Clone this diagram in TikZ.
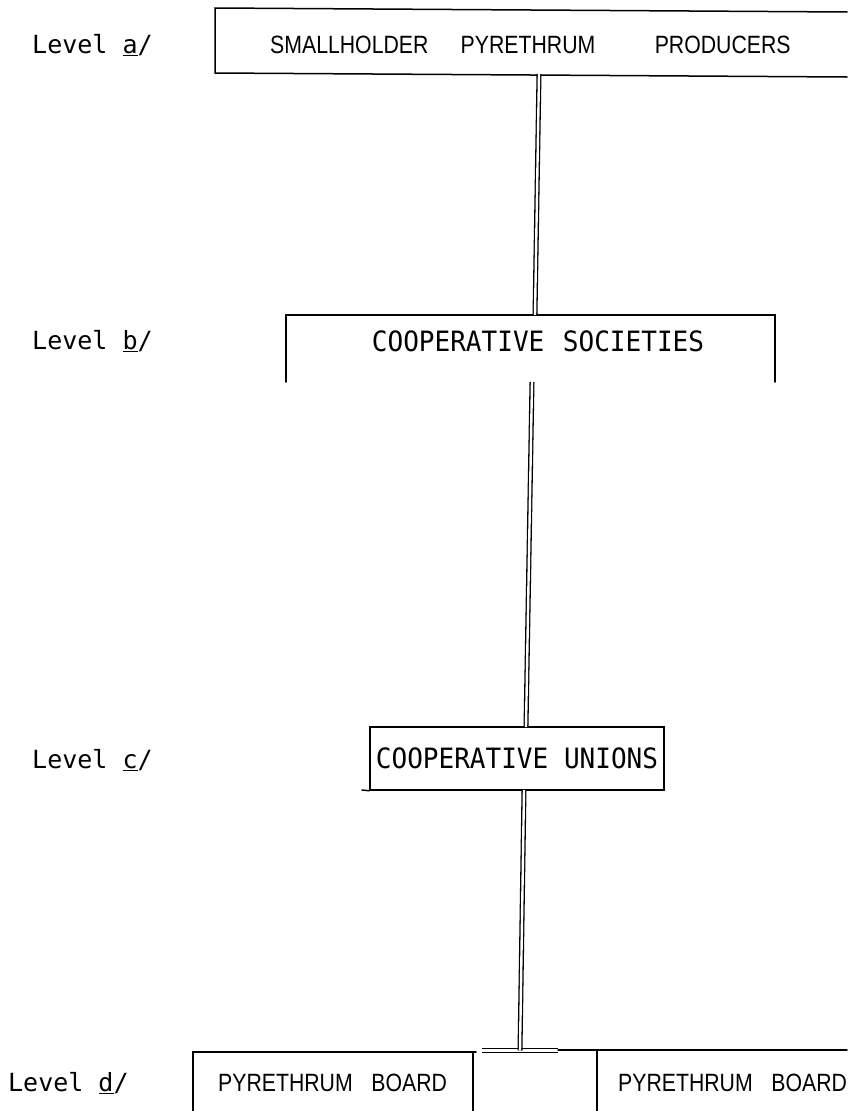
\documentclass[tikz,border=0pt]{standalone}
\usepackage{fontspec}
\usepackage{graphicx}
\newfontfamily\lvlfont{DejaVu Sans Mono}
\newfontfamily\plotfont{Liberation Sans}
\newcommand\narrowtxt[1]{\scalebox{0.85}[1]{#1}}
\newcommand\monotxt[1]{\scalebox{0.93}[1]{#1}}
\begin{document}
\begin{tikzpicture}[x=1pt,y=-1pt,
  boxline/.style={line width=1.5pt,black,line cap=round,line join=miter},
  dline/.style={double,double distance=2.4pt,line width=1.3pt,black},
  lvl/.style={font=\lvlfont\fontsize{25}{25}\selectfont,anchor=west,inner sep=0pt},
  sanst/.style={font=\plotfont\fontsize{25}{25}\selectfont,inner sep=0pt},
  monot/.style={font=\lvlfont\fontsize{28}{28}\selectfont,inner sep=0pt}]
\useasboundingbox[fill=white] (0,0) rectangle (847,1111);
% level labels
\node[lvl] (la) at (32,45) {Level \underline{a}/};
\node[lvl] (lb) at (32,341) {Level \underline{b}/};
\node[lvl] (lc) at (32,760) {Level \underline{c}/};
\node[lvl] (ld) at (8,1083) {Level \underline{d}/};
% box a
\coordinate (atr) at (847,12);
\coordinate (atl) at (215,8);
\coordinate (abl) at (215,73);
\coordinate (abr) at (847,77);
\draw[boxline] (atr) -- (atl) -- (abl) -- (abr);
\node[sanst,anchor=west] (ta) at (270,45) {\narrowtxt{SMALLHOLDER\hspace{38pt}PYRETHRUM\hspace{70pt}PRODUCERS}};
% box b
\coordinate (btl) at (286,315);
\coordinate (btr) at (775,315);
\coordinate (bbl) at (286,382);
\coordinate (bbr) at (775,382);
\draw[boxline] (bbl) -- (btl) -- (btr) -- (bbr);
\node[monot] (tb) at (538,341) {\monotxt{COOPERATIVE\hspace{20pt}SOCIETIES}};
% box c
\node[draw,boxline,minimum width=294pt,minimum height=63pt,inner sep=0pt] (bc) at (517,758.5) {};
\node[monot] (tc) at (bc.center) {\monotxt{COOPERATIVE UNIONS}};
\coordinate (cext) at (362,790);
\draw[boxline] (cext) -- (bc.south west);
% connectors
\coordinate (a1) at (539,74);
\coordinate (b0) at (535,315);
\coordinate (b1) at (532,382);
\coordinate (c0) at (526,727);
\coordinate (c1) at (524,790);
\coordinate (d0) at (520,1050.5);
\coordinate (tl) at (482,1050.5);
\coordinate (tr) at (558,1050.5);
\draw[dline] (a1) -- (b0);
\draw[dline] (b1) -- (c0);
\draw[dline] (tl) -- (tr);
\draw[dline] (c1) -- (d0);
% level d boxes
\coordinate (d1bl) at (193,1111);
\coordinate (d1tl) at (193,1052);
\coordinate (d1tr) at (476,1052);
\coordinate (d1rt) at (473,1052);
\coordinate (d1rb) at (473,1111);
\draw[boxline] (d1bl) -- (d1tl) -- (d1tr);
\draw[boxline] (d1rt) -- (d1rb);
\node[sanst,anchor=west] (td1) at (218,1083) {\narrowtxt{PYRETHRUM\hspace{22pt}BOARD}};
\coordinate (d2l) at (558,1050);
\coordinate (d2r) at (847,1050);
\coordinate (d2lt) at (597,1050);
\coordinate (d2lb) at (597,1111);
\draw[boxline] (d2l) -- (d2r);
\draw[boxline] (d2lt) -- (d2lb);
\node[sanst,anchor=west] (td2) at (618,1083) {\narrowtxt{PYRETHRUM\hspace{22pt}BOARD}};
\end{tikzpicture}
\end{document}
